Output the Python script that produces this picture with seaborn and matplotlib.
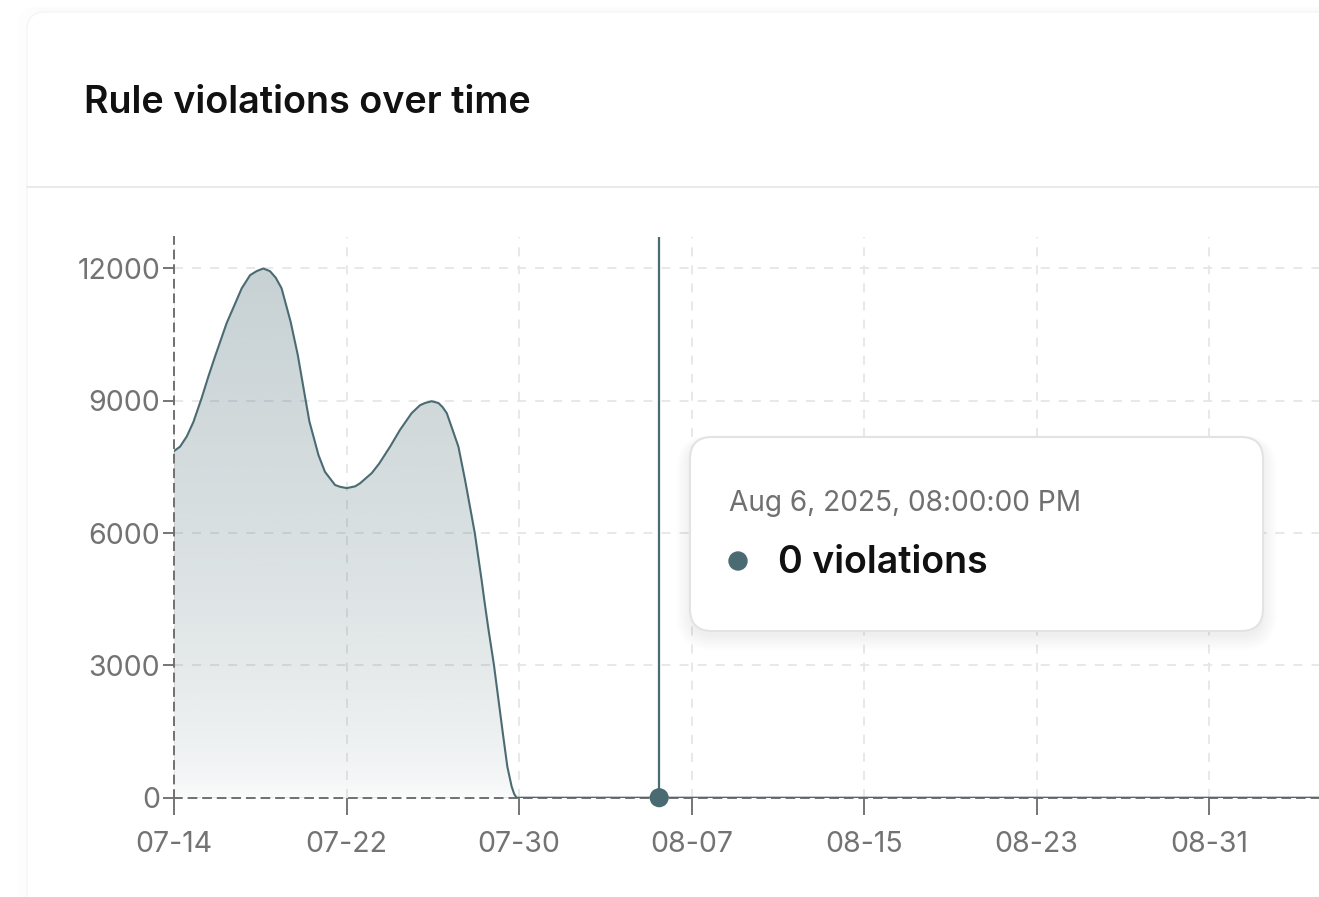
import numpy as np
import pandas as pd
import matplotlib
matplotlib.use('Agg')
import matplotlib.pyplot as plt
import matplotlib.dates as mdates
from matplotlib.patches import FancyBboxPatch, Circle
from matplotlib.lines import Line2D
from matplotlib.transforms import IdentityTransform
import seaborn as sns

W, H = 1319, 897

# points: days after 07-14 and violation counts
start_date = '2025-07-14'
day_offsets = [0.0, 0.28, 0.59, 0.90, 1.28, 1.60, 1.90, 2.44, 3.14, 3.53, 3.83, 4.14,
               4.45, 4.72, 4.99, 5.41, 5.74, 6.11, 6.28, 6.70, 7.00, 7.47,
               7.70, 8.01, 8.40, 8.63, 9.17, 9.52, 10.02, 10.48, 11.02, 11.41,
               11.64, 11.95, 12.26, 12.45, 12.65, 13.19, 13.50, 13.95, 14.27, 14.39,
               14.58, 14.84, 15.25, 15.46, 15.66, 15.78, 15.89,
               19.9, 23.9, 27.9, 31.9, 35.9, 39.9, 43.9, 47.9, 51.9, 55.9]
violations = [7860, 7960, 8190, 8520, 9060, 9560, 10000, 10760, 11550, 11850, 11940, 12000,
              11940, 11790, 11550, 10790, 10040, 9000, 8530, 7770, 7390, 7090,
              7050, 7020, 7060, 7130, 7360, 7580, 7960, 8340, 8720, 8900,
              8950, 8990, 8950, 8860, 8720, 7960, 7200, 6000, 4920, 4480,
              3830, 3000, 1460, 700, 250, 80, 0,
              0, 0, 0, 0, 0, 0, 0, 0, 0, 0]

tick_dates = ['2025-07-14', '2025-07-22', '2025-07-30', '2025-08-07',
              '2025-08-15', '2025-08-23', '2025-08-31']
y_ticks = [0, 3000, 6000, 9000, 12000]

hover_time = '2025-08-05 12:00'
hover_label = 'Aug 6, 2025, 08:00:00 PM'
hover_value = 0

line_color = '#4b6b73'

t0 = pd.Timestamp(start_date)
df = pd.DataFrame({'date': t0 + pd.to_timedelta(day_offsets, unit='D'), 'violations': violations})

sns.set_theme(style='white')
plt.rcParams['font.family'] = ['Inter', 'DejaVu Sans']

fig = plt.figure(figsize=(W / 100, H / 100), dpi=100)
fig.patch.set_facecolor('white')

px = IdentityTransform()

# card outline + faint shadow
for i in range(5):
    fig.add_artist(FancyBboxPatch((27 - i * 2, -60 - i), W + 200, H - 12 + 60 + i * 2,
                                  boxstyle='round,pad=0,rounding_size=18', transform=px,
                                  fc='none', ec='black', lw=1.5, alpha=0.006, zorder=0))
fig.add_artist(FancyBboxPatch((27, -60), W + 200, H - 12 + 60,
                              boxstyle='round,pad=0,rounding_size=18', transform=px,
                              fc='white', ec='#f5f5f5', lw=1, zorder=0))

fig.text(84, H - 112.7, 'Rule violations over time', transform=px, va='baseline', ha='left',
         fontsize=27.2, fontweight='semibold', color='#111111')
fig.add_artist(Line2D([27, W], [H - 187, H - 187], transform=px, color='#e6e8ec', lw=1.3))

ax = fig.add_axes([174 / W, (H - 797.7) / H, (W - 174) / W, (797.7 - 237) / H])
ax.set_facecolor('none')

x1 = t0 + pd.Timedelta(days=53.1)

# gradient area under the curve
poly = ax.fill_between(df['date'], df['violations'], 0, color='none', lw=0)
grad = np.linspace(1, 0, 256)
rgba = np.zeros((256, 1, 4))
rgba[..., :3] = matplotlib.colors.to_rgb(line_color)
rgba[:, 0, 3] = 0.02 + 0.29 * grad ** 0.6
im = ax.imshow(rgba, extent=[mdates.date2num(t0), mdates.date2num(x1), 0, 12000],
               aspect='auto', origin='upper', zorder=1)
im.set_clip_path(poly.get_paths()[0], transform=ax.transData)

sns.lineplot(data=df, x='date', y='violations', ax=ax, color=line_color, linewidth=1.5,
             zorder=3, sort=False)
for ln in ax.get_lines():
    ln.set_solid_joinstyle('round')

ax.axvline(pd.Timestamp(hover_time), color=line_color, lw=1.6, zorder=3)
sns.scatterplot(x=[pd.Timestamp(hover_time)], y=[hover_value], ax=ax, s=190, color=line_color,
                edgecolor='none', zorder=4, clip_on=False)

ax.set_xlim(t0, x1)
ax.set_ylim(0, 12714)
ax.set_xlabel('')
ax.set_ylabel('')

ax.set_xticks(pd.to_datetime(tick_dates))
ax.xaxis.set_major_formatter(mdates.DateFormatter('%m-%d'))
ax.set_yticks(y_ticks)
ax.set_yticklabels([str(v) for v in y_ticks])

ax.grid(True, color='#e6e6e6', linestyle=(0, (5, 5)), lw=1.3)
ax.set_axisbelow(True)
for s in ['top', 'right']:
    ax.spines[s].set_visible(False)
for s in ['left', 'bottom']:
    ax.spines[s].set_color('#707070')
    ax.spines[s].set_linewidth(1.4)
    ax.spines[s].set_linestyle((0, (4, 3.5)))

ax.tick_params(axis='y', length=8, width=1.3, color='#6a6a6a', pad=2, labelsize=20.5, labelcolor='#737373')
ax.tick_params(axis='x', length=12, width=1.3, color='#6a6a6a', pad=12, labelsize=20.5, labelcolor='#737373')
ax.tick_params(left=True, bottom=True)

# tooltip
bx, by, bw, bh = 690, H - 631, 573, 194
for i in range(8):
    fig.add_artist(FancyBboxPatch((bx - i * 2, by - 5 - i * 2), bw + i * 4, bh + i * 3,
                                  boxstyle='round,pad=0,rounding_size=%d' % (22 + i * 2), transform=px,
                                  fc='black', ec='none', alpha=0.008, zorder=5))
fig.add_artist(FancyBboxPatch((bx, by), bw, bh, boxstyle='round,pad=0,rounding_size=22',
                              transform=px, fc='white', ec='#e3e3e3', lw=1.5, zorder=6))
fig.text(729, H - 503, hover_label, transform=px, va='center', ha='left',
         fontsize=20.2, color='#707070', zorder=7)
fig.add_artist(Circle((738, H - 561), 9, transform=px, color=line_color, zorder=7))
fig.text(778, H - 563, '%d violations' % hover_value, transform=px, va='center', ha='left',
         fontsize=27, fontweight='semibold', color='#111111', zorder=7)

fig.savefig('out.png', dpi=100)
